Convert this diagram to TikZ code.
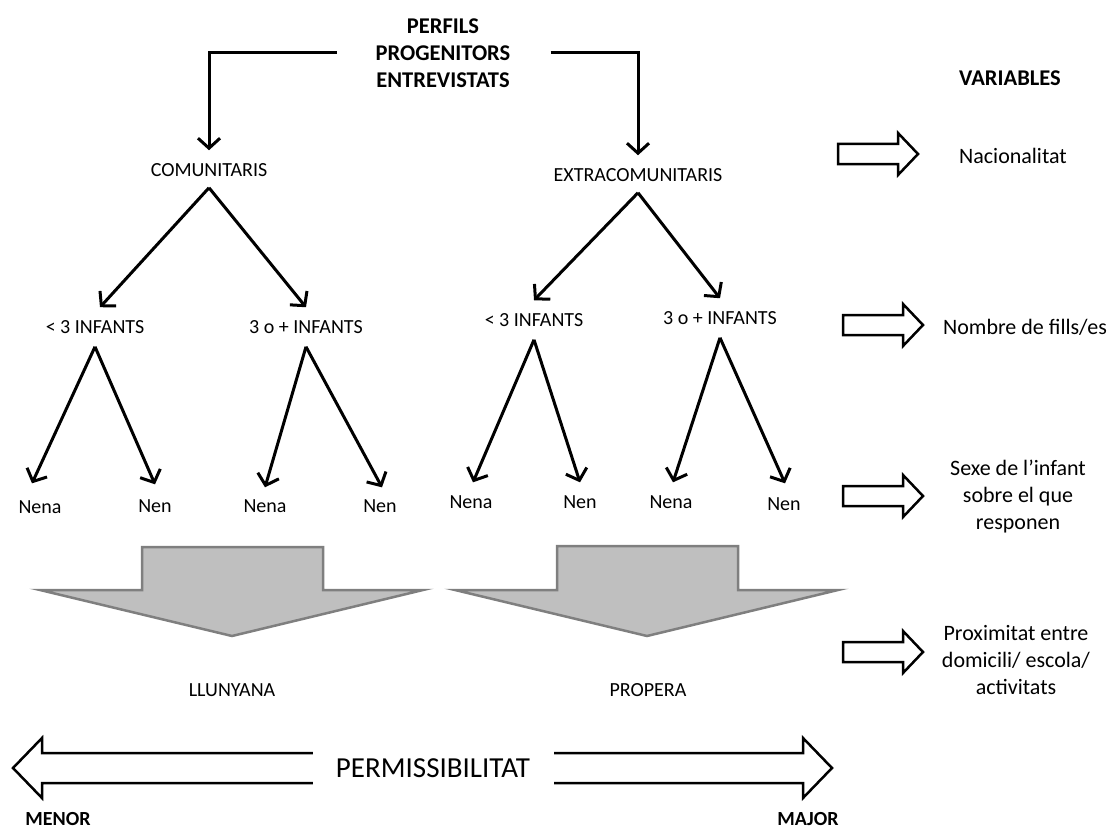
\documentclass[tikz,border=0pt]{standalone}
\usepackage{fontspec}
\setmainfont{Carlito}
\usetikzlibrary{arrows.meta,positioning}
\definecolor{arrowfill}{RGB}{191,191,191}
\definecolor{arrowedge}{RGB}{127,127,127}

\begin{document}
\begin{tikzpicture}[x=1pt, y=-1pt,
  heading/.style={inner sep=0pt, align=center, font=\bfseries\fontsize{22.5}{27}\selectfont},
  treetext/.style={inner sep=0pt, font=\fontsize{20}{24}\selectfont},
  vartext/.style={inner sep=0pt, align=center, font=\fontsize{22}{27}\selectfont},
  branch/.style={draw, line width=3pt, -{Straight Barb[length=10pt,width=22pt]}},
  blockarrow/.style={draw, line width=2.5pt, fill=white, line join=miter},
  greyarrow/.style={draw=arrowedge, fill=arrowfill, line width=2.5pt},
  varrow/.pic={\draw[blockarrow] (0,-10) -- (60,-10) -- (60,-21) -- (80,0) -- (60,21) -- (60,10) -- (0,10) -- cycle;}]

  \useasboundingbox (0,0) rectangle (1116,832);

  \node[heading] (top) at (443,53) {PERFILS\\PROGENITORS\\ENTREVISTATS};
  \node[treetext] (com) at (209,170) {COMUNITARIS};
  \node[treetext] (ext) at (638,175) {EXTRACOMUNITARIS};

  \node[treetext] (com-few) at (95,327) {< 3 INFANTS};
  \node[treetext] (com-many) at (306,327) {3 o + INFANTS};
  \node[treetext] (ext-few) at (534,320) {< 3 INFANTS};
  \node[treetext] (ext-many) at (720,318) {3 o + INFANTS};

  \node[treetext] (nena1) at (40,507) {Nena};
  \node[treetext] (nen1) at (155,506) {Nen};
  \node[treetext] (nena2) at (265,506) {Nena};
  \node[treetext] (nen2) at (380,506) {Nen};
  \node[treetext] (nena3) at (471,502) {Nena};
  \node[treetext] (nen3) at (580,502) {Nen};
  \node[treetext] (nena4) at (671,502) {Nena};
  \node[treetext] (nen4) at (784,504) {Nen};

  \draw[branch] ([xshift=-39pt]top.west) -| ([yshift=13pt]com.north);
  \draw[branch] ([xshift=40pt]top.east) -| ([yshift=13pt]ext.north);

  \draw[branch] ([yshift=-11pt]com.south) -- ([xshift=5pt,yshift=13pt]com-few.north);
  \draw[branch] ([yshift=-11pt]com.south) -- ([yshift=13pt]com-many.north);
  \draw[branch] ([yshift=-11pt]ext.south) -- ([yshift=13pt]ext-few.north);
  \draw[branch] ([yshift=-11pt]ext.south) -- ([yshift=13pt]ext-many.north);

  \draw[branch] ([yshift=-13pt]com-few.south) -- ([xshift=-8pt,yshift=17pt]nena1.north);
  \draw[branch] ([yshift=-13pt]com-few.south) -- ([yshift=15pt]nen1.north);
  \draw[branch] ([yshift=-13pt]com-many.south) -- ([yshift=12pt]nena2.north);
  \draw[branch] ([yshift=-13pt]com-many.south) -- ([xshift=2pt,yshift=12pt]nen2.north);
  \draw[branch] ([yshift=-13pt]ext-few.south) -- ([xshift=2pt,yshift=13pt]nena3.north);
  \draw[branch] ([yshift=-13pt]ext-few.south) -- ([yshift=13pt]nen3.north);
  \draw[branch] ([yshift=-13pt]ext-many.south) -- ([xshift=2pt,yshift=13pt]nena4.north);
  \draw[branch] ([yshift=-13pt]ext-many.south) -- ([xshift=1pt,yshift=14pt]nen4.north);

  \draw[greyarrow] (142,547) -- (323,547) -- (323,590) -- (423,590) -- (232,636) -- (40,590) -- (142,590) -- cycle;
  \draw[greyarrow] (557,546) -- (738,546) -- (738,590) -- (838,590) -- (647,636) -- (455,590) -- (557,590) -- cycle;
  \node[treetext] (far) at (232,690) {LLUNYANA};
  \node[treetext] (near) at (648,690) {PROPERA};

  \draw[blockarrow] (13,768) -- (42,738) -- (42,753) -- (803,753) -- (803,738) -- (832,768)
    -- (803,798) -- (803,783) -- (42,783) -- (42,798) -- cycle;
  \node[fill=white, inner sep=0pt, minimum width=241pt, minimum height=40pt,
    font=\fontsize{29}{34}\selectfont] (perm) at (433,768) {PERMISSIBILITAT};
  \node[heading, font=\bfseries\fontsize{20}{24}\selectfont] (less) at (58,819) {MENOR};
  \node[heading, font=\bfseries\fontsize{20}{24}\selectfont] (more) at (808,819) {MAJOR};

  \node[heading] (vars) at (1010,78) {VARIABLES};
  \pic at (838,154) {varrow};
  \pic at (843,325) {varrow};
  \pic at (843,496) {varrow};
  \pic at (843,652) {varrow};
  \node[vartext] (nac) at (1013,156) {Nacionalitat};
  \node[vartext] (fills) at (1025,327) {Nombre de fills/es};
  \node[vartext] (sexe) at (1018,497) {Sexe de l’infant\\sobre el que\\responen};
  \node[vartext] (prox) at (1016,660) {Proximitat entre\\domicili/ escola/\\activitats};
\end{tikzpicture}
\end{document}
